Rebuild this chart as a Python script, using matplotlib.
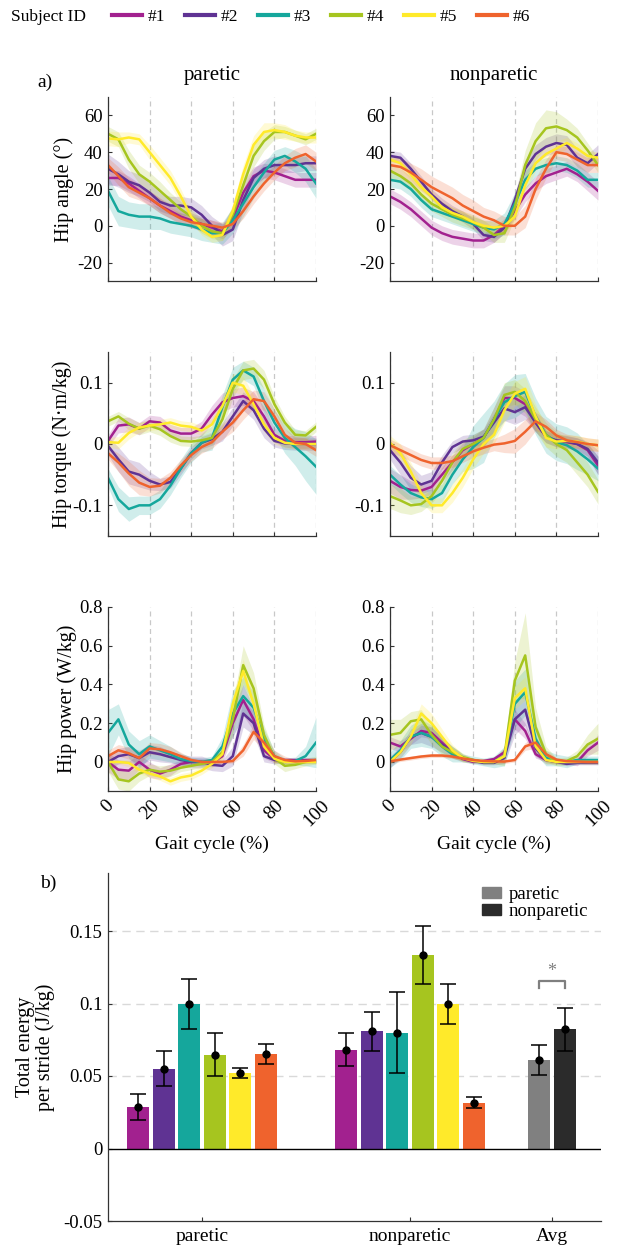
import matplotlib
matplotlib.use("Agg")
import matplotlib.pyplot as plt
from matplotlib.patches import Patch
from matplotlib.lines import Line2D

plt.rcParams['font.family'] = ['Liberation Serif', 'DejaVu Serif']
plt.rcParams['axes.unicode_minus'] = False

# ---------------- data ----------------
gait = list(range(0, 101, 5))
subjects = ['#1', '#2', '#3', '#4', '#5', '#6']
colors = ['#A2218F', '#5F3393', '#15A79C', '#A6C51F', '#FFEA2A', '#EF632D']

# hip angle (deg)
angle_paretic = [
    [26, 26, 23, 19, 15, 11, 8, 5, 3, 1, -1, -3, 4, 18, 27, 30, 29, 27, 25, 25, 25],
    [31, 28, 24, 22, 18, 13, 11, 11, 10, 6, 0, -5, -2, 14, 26, 31, 33, 33, 33, 34, 34],
    [19, 8, 6, 5, 5, 4, 2, 1, 0, -2, -4, -4, 3, 12, 21, 29, 36, 38, 35, 31, 23],
    [50, 47, 36, 28, 24, 19, 14, 9, 5, 0, -3, -4, 6, 22, 38, 46, 51, 51, 49, 47, 50],
    [47.5, 47, 48, 47, 40, 33, 26, 16, 5, -2, -6, -5, 8, 28, 44, 51, 52, 51, 49, 48, 48],
    [33, 27, 21, 18, 15, 11, 7, 4, 2, 1, 0, -1, 1, 8, 16, 23, 29, 34, 37, 39, 35],
]
angle_paretic_sd = [
    [4, 4, 4, 4, 4, 4, 4, 4, 4, 4, 4, 4, 6, 6, 5, 4, 4, 4, 4, 4, 4],
    [8, 7, 6, 6, 5, 5, 5, 5, 5, 5, 5, 6, 6, 6, 5, 5, 5, 4, 4, 4, 4],
    [8, 8, 7, 7, 7, 6, 6, 6, 6, 6, 5, 6, 7, 7, 6, 5, 5, 5, 6, 7, 8],
    [4, 4, 5, 5, 5, 5, 4, 4, 4, 4, 4, 4, 5, 6, 6, 5, 4, 3, 3, 3, 3],
    [4, 4, 3, 3, 4, 4, 4, 4, 3, 3, 3, 3, 4, 5, 5, 5, 4, 4, 3, 3, 3],
    [4, 5, 5, 4, 4, 4, 3, 3, 3, 3, 3, 3, 3, 4, 4, 4, 4, 4, 5, 5, 5],
]
angle_nonparetic = [
    [16, 13, 9, 4, -1, -4, -6, -7, -8, -8, -5, 0, 8, 17, 23, 27, 29, 31, 28, 24, 19],
    [38, 37, 31, 24, 17, 12, 8, 5, 1, -5, -6, -1, 14, 31, 39, 43, 45, 44, 37, 34, 39],
    [25, 24, 20, 14, 9, 7, 5, 3, 1, -1, -2, 1, 12, 25, 31, 33, 34, 33, 30, 25, 25],
    [30, 27, 23, 17, 12, 9, 6, 4, 2, -1, -5, -4, 10, 33, 46, 53, 54, 52, 48, 41, 33],
    [36, 34, 28, 21, 16, 10, 7, 5, 2, 0, -1, 0, 5, 22, 34, 39, 42, 45, 42, 38, 37],
    [33, 32, 29, 25, 21, 18, 15, 11, 8, 5, 3, 0, 0, 5, 20, 31, 40, 39, 36, 33, 33],
]
angle_nonparetic_sd = [
    [4, 4, 4, 4, 4, 4, 4, 4, 4, 4, 4, 4, 4, 4, 4, 4, 4, 4, 4, 5, 5],
    [3, 3, 3, 3, 3, 3, 3, 3, 3, 3, 3, 3, 4, 5, 5, 5, 5, 5, 5, 5, 5],
    [4, 4, 4, 4, 4, 4, 4, 4, 4, 4, 5, 6, 6, 5, 4, 4, 4, 4, 4, 4, 4],
    [4, 4, 4, 4, 4, 4, 4, 4, 4, 4, 4, 5, 6, 8, 10, 10, 8, 6, 5, 4, 4],
    [3, 3, 3, 3, 3, 3, 3, 3, 3, 3, 3, 3, 4, 4, 4, 4, 4, 3, 3, 3, 3],
    [4, 5, 5, 6, 6, 6, 6, 6, 6, 5, 5, 5, 5, 6, 6, 5, 4, 4, 4, 4, 4],
]

# hip torque (N m/kg)
torque_paretic = [
    [0.005, 0.03, 0.032, 0.025, 0.037, 0.035, 0.022, 0.017, 0.017, 0.025, 0.048, 0.068, 0.075, 0.078, 0.07, 0.045, 0.015, 0.005, 0.003, 0.003, 0.004],
    [-0.003, -0.025, -0.045, -0.05, -0.06, -0.066, -0.062, -0.04, -0.015, 0.002, 0.008, 0.02, 0.045, 0.07, 0.055, 0.025, 0.005, 0.001, 0.0, 0.0, 0.0],
    [-0.055, -0.09, -0.106, -0.1, -0.1, -0.09, -0.068, -0.04, -0.015, 0.002, 0.01, 0.06, 0.105, 0.12, 0.11, 0.07, 0.035, 0.01, -0.005, -0.02, -0.037],
    [0.037, 0.045, 0.033, 0.025, 0.03, 0.024, 0.013, 0.005, 0.004, 0.006, 0.01, 0.04, 0.09, 0.12, 0.123, 0.105, 0.065, 0.035, 0.015, 0.014, 0.028],
    [0.003, 0.002, 0.018, 0.027, 0.03, 0.032, 0.035, 0.03, 0.028, 0.022, 0.032, 0.062, 0.1, 0.095, 0.065, 0.032, 0.01, 0.002, 0.0, 0.0, 0.0],
    [-0.015, -0.03, -0.048, -0.063, -0.07, -0.068, -0.055, -0.035, -0.018, -0.005, 0.003, 0.02, 0.035, 0.055, 0.073, 0.07, 0.045, 0.015, 0.002, 0.0, -0.01],
]
torque_paretic_sd = [
    [0.01, 0.012, 0.012, 0.01, 0.01, 0.01, 0.01, 0.01, 0.01, 0.012, 0.015, 0.015, 0.015, 0.015, 0.015, 0.015, 0.012, 0.01, 0.01, 0.01, 0.01],
    [0.015, 0.02, 0.02, 0.02, 0.015, 0.01, 0.01, 0.01, 0.01, 0.01, 0.01, 0.015, 0.015, 0.015, 0.015, 0.015, 0.01, 0.01, 0.01, 0.01, 0.01],
    [0.015, 0.02, 0.02, 0.015, 0.015, 0.015, 0.015, 0.015, 0.015, 0.015, 0.02, 0.02, 0.02, 0.015, 0.015, 0.02, 0.02, 0.025, 0.03, 0.04, 0.045],
    [0.008, 0.008, 0.01, 0.01, 0.01, 0.01, 0.01, 0.008, 0.008, 0.008, 0.01, 0.015, 0.015, 0.015, 0.015, 0.015, 0.012, 0.01, 0.008, 0.008, 0.008],
    [0.008, 0.01, 0.01, 0.008, 0.008, 0.008, 0.008, 0.008, 0.008, 0.008, 0.01, 0.015, 0.015, 0.015, 0.015, 0.012, 0.01, 0.008, 0.008, 0.008, 0.008],
    [0.01, 0.015, 0.02, 0.02, 0.015, 0.012, 0.01, 0.01, 0.01, 0.01, 0.01, 0.012, 0.015, 0.015, 0.015, 0.015, 0.012, 0.01, 0.01, 0.01, 0.01],
]
torque_nonparetic = [
    [-0.06, -0.07, -0.075, -0.076, -0.07, -0.05, -0.03, -0.01, 0.0, 0.01, 0.04, 0.075, 0.075, 0.065, 0.035, 0.012, 0.005, 0.003, 0.0, -0.01, -0.035],
    [-0.01, -0.03, -0.055, -0.066, -0.06, -0.03, -0.005, 0.004, 0.006, 0.012, 0.035, 0.058, 0.052, 0.06, 0.035, 0.012, 0.006, 0.004, 0.0, -0.008, -0.03],
    [-0.05, -0.066, -0.08, -0.087, -0.09, -0.08, -0.05, -0.025, -0.005, 0.01, 0.04, 0.068, 0.078, 0.085, 0.045, 0.015, 0.003, -0.002, -0.012, -0.025, -0.04],
    [-0.085, -0.092, -0.1, -0.098, -0.085, -0.06, -0.03, -0.008, 0.0, 0.01, 0.04, 0.08, 0.085, 0.07, 0.04, 0.015, 0.0, -0.01, -0.03, -0.05, -0.078],
    [0.002, -0.015, -0.045, -0.08, -0.1, -0.1, -0.08, -0.055, -0.025, 0.0, 0.015, 0.055, 0.082, 0.09, 0.045, 0.01, 0.004, 0.005, 0.004, 0.0, -0.002],
    [-0.002, -0.01, -0.018, -0.026, -0.031, -0.031, -0.028, -0.02, -0.012, -0.006, -0.001, 0.001, 0.005, 0.02, 0.037, 0.028, 0.014, 0.006, 0.003, 0.0, -0.002],
]
torque_nonparetic_sd = [
    [0.02, 0.02, 0.015, 0.012, 0.012, 0.012, 0.012, 0.012, 0.012, 0.015, 0.02, 0.02, 0.02, 0.02, 0.015, 0.01, 0.01, 0.01, 0.01, 0.012, 0.015],
    [0.015, 0.02, 0.02, 0.015, 0.015, 0.012, 0.01, 0.01, 0.01, 0.012, 0.015, 0.02, 0.02, 0.02, 0.015, 0.01, 0.01, 0.01, 0.01, 0.012, 0.02],
    [0.015, 0.015, 0.015, 0.015, 0.015, 0.015, 0.015, 0.02, 0.035, 0.04, 0.03, 0.03, 0.035, 0.03, 0.03, 0.03, 0.03, 0.03, 0.03, 0.025, 0.02],
    [0.02, 0.02, 0.015, 0.012, 0.012, 0.015, 0.015, 0.015, 0.015, 0.015, 0.02, 0.02, 0.02, 0.02, 0.02, 0.02, 0.02, 0.02, 0.02, 0.02, 0.02],
    [0.012, 0.015, 0.015, 0.015, 0.012, 0.012, 0.015, 0.015, 0.015, 0.015, 0.015, 0.02, 0.02, 0.02, 0.02, 0.015, 0.012, 0.01, 0.01, 0.01, 0.01],
    [0.01, 0.01, 0.01, 0.01, 0.01, 0.01, 0.01, 0.01, 0.01, 0.01, 0.01, 0.015, 0.02, 0.02, 0.015, 0.012, 0.01, 0.01, 0.01, 0.01, 0.01],
]

# hip power (W/kg)
power_paretic = [
    [0.0, -0.04, -0.045, 0.0, -0.04, -0.06, -0.04, -0.01, 0.0, 0.0, -0.005, 0.03, 0.2, 0.32, 0.22, 0.06, 0.015, 0.01, 0.01, 0.01, 0.01],
    [0.0, 0.03, 0.04, 0.02, 0.05, 0.04, 0.025, 0.01, 0.0, 0.0, -0.015, -0.02, 0.03, 0.25, 0.2, 0.03, 0.01, 0.005, 0.003, 0.003, 0.003],
    [0.15, 0.22, 0.09, 0.04, 0.08, 0.06, 0.04, 0.015, 0.005, 0.0, 0.01, 0.08, 0.25, 0.34, 0.28, 0.12, 0.03, 0.0, 0.005, 0.03, 0.1],
    [0.0, -0.09, -0.1, -0.06, -0.04, -0.05, -0.045, -0.03, -0.02, -0.01, 0.0, 0.05, 0.22, 0.5, 0.38, 0.14, 0.02, -0.02, -0.015, 0.0, 0.01],
    [0.0, 0.0, -0.005, -0.04, -0.06, -0.075, -0.1, -0.08, -0.07, -0.045, -0.01, 0.04, 0.3, 0.47, 0.3, 0.08, 0.017, 0.0, 0.0, 0.0, 0.0],
    [0.03, 0.06, 0.045, 0.02, 0.07, 0.065, 0.05, 0.03, 0.01, 0.0, 0.0, 0.0, 0.005, 0.06, 0.155, 0.1, 0.03, 0.01, 0.003, 0.005, 0.01],
]
power_paretic_sd = [
    [0.05, 0.05, 0.05, 0.04, 0.04, 0.03, 0.03, 0.02, 0.02, 0.02, 0.02, 0.03, 0.07, 0.08, 0.06, 0.04, 0.02, 0.01, 0.01, 0.01, 0.01],
    [0.04, 0.04, 0.04, 0.04, 0.04, 0.04, 0.03, 0.03, 0.03, 0.03, 0.03, 0.03, 0.05, 0.07, 0.06, 0.03, 0.02, 0.01, 0.01, 0.01, 0.01],
    [0.12, 0.08, 0.07, 0.07, 0.06, 0.05, 0.04, 0.03, 0.02, 0.02, 0.02, 0.05, 0.12, 0.1, 0.08, 0.05, 0.03, 0.02, 0.02, 0.05, 0.13],
    [0.05, 0.05, 0.05, 0.04, 0.03, 0.03, 0.03, 0.02, 0.02, 0.02, 0.02, 0.03, 0.08, 0.1, 0.08, 0.05, 0.03, 0.03, 0.02, 0.02, 0.02],
    [0.01, 0.01, 0.02, 0.02, 0.02, 0.02, 0.02, 0.02, 0.02, 0.02, 0.02, 0.03, 0.05, 0.06, 0.05, 0.03, 0.02, 0.01, 0.01, 0.01, 0.01],
    [0.03, 0.03, 0.03, 0.03, 0.03, 0.03, 0.03, 0.02, 0.01, 0.01, 0.01, 0.01, 0.01, 0.03, 0.04, 0.04, 0.03, 0.02, 0.01, 0.01, 0.01],
]
power_nonparetic = [
    [0.1, 0.08, 0.12, 0.16, 0.15, 0.1, 0.05, 0.015, 0.0, 0.005, 0.015, 0.05, 0.22, 0.16, 0.04, 0.01, 0.0, 0.0, 0.0, 0.06, 0.1],
    [0.0, 0.05, 0.13, 0.15, 0.13, 0.09, 0.05, 0.02, 0.005, -0.005, -0.005, 0.02, 0.22, 0.27, 0.07, 0.01, 0.0, -0.01, -0.005, -0.005, -0.005],
    [0.01, 0.06, 0.13, 0.15, 0.13, 0.08, 0.04, 0.02, 0.01, 0.0, 0.0, 0.03, 0.3, 0.36, 0.12, 0.02, 0.01, 0.0, 0.01, 0.01, 0.01],
    [0.14, 0.15, 0.21, 0.22, 0.14, 0.08, 0.05, 0.025, 0.01, 0.0, 0.0, 0.03, 0.42, 0.55, 0.18, 0.04, 0.0, 0.005, 0.03, 0.09, 0.12],
    [0.0, 0.05, 0.13, 0.25, 0.2, 0.13, 0.06, 0.02, 0.005, 0.0, 0.0, 0.03, 0.33, 0.38, 0.08, 0.01, 0.0, 0.0, 0.0, 0.0, 0.0],
    [0.003, 0.012, 0.02, 0.028, 0.033, 0.033, 0.028, 0.018, 0.01, 0.005, 0.003, 0.002, 0.01, 0.08, 0.1, 0.04, 0.012, 0.004, 0.002, 0.0, 0.0],
]
power_nonparetic_sd = [
    [0.03, 0.03, 0.03, 0.03, 0.03, 0.03, 0.02, 0.01, 0.01, 0.01, 0.01, 0.02, 0.05, 0.04, 0.02, 0.01, 0.01, 0.01, 0.02, 0.03, 0.04],
    [0.03, 0.03, 0.04, 0.05, 0.05, 0.04, 0.03, 0.02, 0.01, 0.01, 0.01, 0.03, 0.08, 0.08, 0.04, 0.02, 0.01, 0.01, 0.01, 0.01, 0.01],
    [0.04, 0.05, 0.06, 0.07, 0.06, 0.05, 0.04, 0.02, 0.02, 0.02, 0.03, 0.05, 0.12, 0.12, 0.08, 0.04, 0.03, 0.03, 0.02, 0.02, 0.02],
    [0.08, 0.07, 0.05, 0.05, 0.05, 0.04, 0.03, 0.02, 0.01, 0.01, 0.01, 0.05, 0.1, 0.22, 0.1, 0.04, 0.02, 0.02, 0.03, 0.05, 0.08],
    [0.01, 0.02, 0.04, 0.05, 0.05, 0.04, 0.03, 0.02, 0.01, 0.01, 0.01, 0.03, 0.06, 0.06, 0.04, 0.02, 0.01, 0.01, 0.01, 0.01, 0.01],
    [0.01, 0.01, 0.01, 0.01, 0.01, 0.01, 0.01, 0.01, 0.01, 0.01, 0.01, 0.01, 0.01, 0.02, 0.03, 0.02, 0.01, 0.01, 0.01, 0.01, 0.01],
]

# total energy per stride (J/kg)
energy_paretic = [0.0286, 0.0551, 0.0996, 0.0648, 0.0523, 0.0652]
energy_paretic_err = [0.009, 0.012, 0.017, 0.015, 0.0035, 0.007]
energy_nonparetic = [0.0682, 0.0809, 0.0798, 0.1335, 0.0996, 0.0316]
energy_nonparetic_err = [0.0115, 0.0135, 0.028, 0.0198, 0.014, 0.004]
avg_labels = ['paretic', 'nonparetic']
avg_energy = [0.0609, 0.0821]
avg_energy_err = [0.0105, 0.015]
avg_colors = ['#808080', '#2B2B2B']
group_labels = ['paretic', 'nonparetic', 'Avg']

# ---------------- figure ----------------
W, H = 619, 1248
fig = plt.figure(figsize=(W / 100, H / 100), dpi=100)
spine_col = '#333333'


def px_axes(x0, y0, x1, y1):
    return fig.add_axes([x0 / W, 1 - y1 / H, (x1 - x0) / W, (y1 - y0) / H])


def style(ax):
    for s in ['top', 'right']:
        ax.spines[s].set_visible(False)
    for s in ['left', 'bottom']:
        ax.spines[s].set_color(spine_col)
        ax.spines[s].set_linewidth(0.9)
    ax.tick_params(direction='in', length=3, labelsize=13.5, color=spine_col, pad=4)


rows = [
    (97, 281, angle_paretic, angle_paretic_sd, angle_nonparetic, angle_nonparetic_sd,
     (-30, 70), [-20, 0, 20, 40, 60], ['-20', '0', '20', '40', '60'], 'Hip angle (°)', -0.165),
    (352, 536, torque_paretic, torque_paretic_sd, torque_nonparetic, torque_nonparetic_sd,
     (-0.15, 0.15), [-0.1, 0, 0.1], ['-0.1', '0', '0.1'], 'Hip torque (N·m/kg)', -0.175),
    (607, 791, power_paretic, power_paretic_sd, power_nonparetic, power_nonparetic_sd,
     (-0.15, 0.8), [0, 0.2, 0.4, 0.6, 0.8], ['0', '0.2', '0.4', '0.6', '0.8'], 'Hip power (W/kg)', -0.15),
]

for r, (top, bot, mp, sp, mn, sn, ylim, yt, ytl, ylab, labx) in enumerate(rows):
    for c, (x0, x1, means, sds) in enumerate([(108, 316, mp, sp), (390, 598, mn, sn)]):
        ax = px_axes(x0, top, x1, bot)
        style(ax)
        for i in range(6):
            lo = [m - s for m, s in zip(means[i], sds[i])]
            hi = [m + s for m, s in zip(means[i], sds[i])]
            ax.fill_between(gait, lo, hi, color=colors[i], alpha=0.2, lw=0)
        for i in range(6):
            ax.plot(gait, means[i], color=colors[i], lw=1.8)
        ax.set_xlim(0, 100)
        ax.set_ylim(*ylim)
        ax.set_xticks(range(0, 101, 20))
        ax.set_yticks(yt)
        ax.set_yticklabels(ytl)
        ax.xaxis.grid(True, ls=(0, (4, 3)), color='#c8c8c8', lw=0.9)
        ax.set_axisbelow(True)
        if r == 2:
            ax.set_xticklabels([str(v) for v in range(0, 101, 20)], rotation=45,
                               ha='center', va='top', fontsize=14)
            ax.set_xlabel('Gait cycle (%)', fontsize=14)
            ax.xaxis.set_label_coords(0.5, -0.245)
        else:
            ax.set_xticklabels([])
        if c == 0:
            ax.set_ylabel(ylab, fontsize=14.5)
            ax.yaxis.set_label_coords(labx, 0.5)
        if r == 0:
            ax.set_title(['paretic', 'nonparetic'][c], fontsize=15, pad=12)

fig.text(37 / W, 1 - 82 / H, 'a)', fontsize=14, ha='left', va='center')
fig.text(40 / W, 1 - 883 / H, 'b)', fontsize=14, ha='left', va='center')

# header legend
fig.text(11 / W, 1 - 17 / H, 'Subject ID', fontsize=12.5, ha='left', va='center')
handles = [Line2D([], [], color=col, lw=3) for col in colors]
fig.legend(handles, subjects, loc='center left', bbox_to_anchor=(112 / W, 1 - 17 / H),
           ncol=6, frameon=False, fontsize=12.5, handlelength=1.75, handletextpad=0.3,
           columnspacing=1.15, borderpad=0, borderaxespad=0)

# ---------------- panel b ----------------
axb = px_axes(108, 873, 601, 1221)
style(axb)
centers = [0, 8.16, 13.73]
offsets = [-2.5, -1.5, -0.5, 0.5, 1.5, 2.5]
bw = 0.86
for g, (vals, errs) in enumerate([(energy_paretic, energy_paretic_err),
                                  (energy_nonparetic, energy_nonparetic_err)]):
    xs = [centers[g] + o for o in offsets]
    axb.bar(xs, vals, width=bw, color=colors, edgecolor='none', zorder=2)
    axb.errorbar(xs, vals, yerr=errs, fmt='o', color='black', ms=5, capsize=6,
                 elinewidth=1.1, capthick=1.1, zorder=3)
xa = [centers[2] - 0.5, centers[2] + 0.5]
axb.bar(xa, avg_energy, width=bw, color=avg_colors, edgecolor='none', zorder=2)
axb.errorbar(xa, avg_energy, yerr=avg_energy_err, fmt='o', color='black', ms=5,
             capsize=6, elinewidth=1.1, capthick=1.1, zorder=3)

for yv in [0.05, 0.1, 0.15]:
    axb.axhline(yv, color='#d9d9d9', ls=(0, (6, 4)), lw=1.0, zorder=0)
axb.axhline(0, color='black', lw=1.0, zorder=2.5)

# significance bracket
axb.plot([xa[0], xa[0], xa[1], xa[1]], [0.111, 0.1155, 0.1155, 0.111],
         color='#7f7f7f', lw=1.6, zorder=3)
axb.text(centers[2], 0.1165, '*', color='#7f7f7f', ha='center', va='bottom', fontsize=13)

axb.set_xlim(-3.69, 15.65)
axb.set_ylim(-0.05, 0.19)
axb.set_yticks([-0.05, 0, 0.05, 0.1, 0.15])
axb.set_yticklabels(['-0.05', '0', '0.05', '0.1', '0.15'])
axb.set_xticks(centers)
axb.set_xticklabels(group_labels, fontsize=14)
axb.tick_params(axis='x', pad=5)
axb.set_ylabel('Total energy\nper stride (J/kg)', fontsize=14.5, linespacing=1.0)
axb.yaxis.set_label_coords(-0.108, 0.5)

leg_handles = [Patch(color=col) for col in avg_colors]
axb.legend(leg_handles, avg_labels, loc='upper right', bbox_to_anchor=(1.0, 1.0),
           frameon=False, fontsize=13.5, handlelength=1.0, handleheight=0.6,
           handletextpad=0.4, labelspacing=0.0, borderpad=0.2)

fig.savefig('out.png', dpi=100)
